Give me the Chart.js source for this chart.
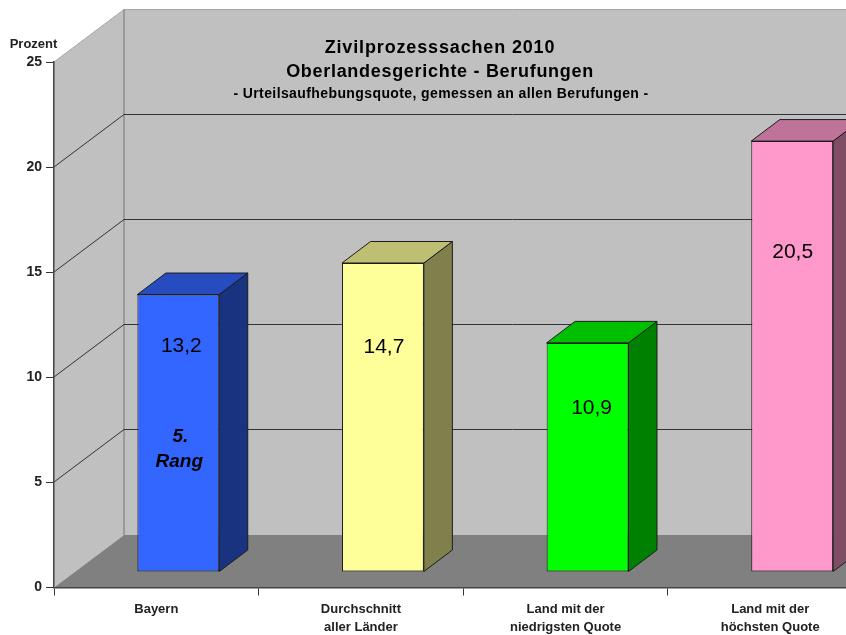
<!DOCTYPE html>
<html>
<head>
<meta charset="utf-8">
<style>html,body{margin:0;padding:0;background:#fff;overflow:hidden;width:846px;height:635px}canvas{display:block}</style>
<script src="https://cdn.jsdelivr.net/npm/chart.js@4/dist/chart.umd.min.js"></script>
</head>
<body>
<canvas id="c" width="900" height="635"></canvas>
<script>
const categories = [["Bayern"], ["Durchschnitt", "aller Länder"], ["Land mit der", "niedrigsten Quote"], ["Land mit der", "höchsten Quote"]];
const values = [13.2, 14.7, 10.9, 20.5];
const valueTexts = ["13,2", "14,7", "10,9", "20,5"];
const labelLevels = [10.75, 10.7, 7.8, 15.2];
const frontColors = ["#3366FF", "#FFFF99", "#00FF00", "#FF99CC"];
const sideColors = ["#1A3380", "#80804D", "#008000", "#804D66"];
const topColors = ["#264CBF", "#BFBF73", "#00BF00", "#BF7399"];
const titleLines = ["Zivilprozesssachen 2010", "Oberlandesgerichte - Berufungen", "- Urteilsaufhebungsquote, gemessen an allen Berufungen -"];
const rankLines = ["5.", "Rang"];
const unitLabel = "Prozent";
const yTicks = [0, 5, 10, 15, 20, 25];

const FONT = '"Liberation Sans", Arial, sans-serif';
const WALL = {dx: 70, dy: -52.5};
const BAR_SHIFT = {dx: 22, dy: -15.5};
const BAR_DEPTH = {dx: 28.5, dy: -21.5};

function poly(ctx, pts, fill, stroke) {
  ctx.beginPath();
  pts.forEach((p, i) => i ? ctx.lineTo(p[0], p[1]) : ctx.moveTo(p[0], p[1]));
  ctx.closePath();
  if (fill) { ctx.fillStyle = fill; ctx.fill(); }
  if (stroke) { ctx.strokeStyle = stroke; ctx.lineWidth = 1; ctx.stroke(); }
}
function seg(ctx, x1, y1, x2, y2, color, w) {
  ctx.beginPath(); ctx.moveTo(x1, y1); ctx.lineTo(x2, y2);
  ctx.strokeStyle = color; ctx.lineWidth = w || 1; ctx.stroke();
}

const scene3d = {
  id: 'scene3d',
  beforeDraw(chart) {
    const {ctx, scales: {x, y}} = chart;
    const L = x.left, R = x.right + WALL.dx, y0 = y.getPixelForValue(0), yT = y.getPixelForValue(25);
    const bx = L + WALL.dx, by0 = y0 + WALL.dy, byT = yT + WALL.dy;
    ctx.save();
    poly(ctx, [[L, y0], [bx, by0], [bx, byT], [L, yT]], '#C0C0C0');
    poly(ctx, [[bx, by0], [R, by0], [R, byT], [bx, byT]], '#C0C0C0');
    poly(ctx, [[L, y0], [x.right, y0], [R, by0], [bx, by0]], '#808080');
    seg(ctx, L, yT, bx, byT, '#A6A6A6');
    seg(ctx, bx, byT, R, byT, '#A6A6A6');
    seg(ctx, bx, byT, bx, by0, '#8C8C8C', 1.5);
    yTicks.filter(v => v > 0 && v < 25).forEach(v => {
      const p = Math.round(y.getPixelForValue(v));
      const q = Math.round(p + WALL.dy) - .5;
      seg(ctx, L, p, bx, q, '#333');
      seg(ctx, bx, q, R, q, '#333');
    });
    ctx.restore();
  },
  beforeDatasetDraw(chart) {
    const ctx = chart.ctx;
    ctx.save();
    ctx.translate(BAR_SHIFT.dx, BAR_SHIFT.dy);
    chart.getDatasetMeta(0).data.forEach((b, i) => {
      const hw = b.width / 2, l = b.x - hw, r = b.x + hw, t = b.y, base = b.base;
      const d = BAR_DEPTH;
      poly(ctx, [[r, t], [r + d.dx, t + d.dy], [r + d.dx, base + d.dy], [r, base]], sideColors[i], '#1c1c1c');
      poly(ctx, [[l, t], [l + d.dx, t + d.dy], [r + d.dx, t + d.dy], [r, t]], topColors[i], '#1c1c1c');
    });
  },
  afterDatasetDraw(chart) {
    chart.ctx.restore();
  },
  afterDraw(chart) {
    const {ctx, scales: {x, y}} = chart;
    const bars = chart.getDatasetMeta(0).data;
    ctx.save();
    ctx.textAlign = 'center';
    ctx.textBaseline = 'middle';
    ctx.fillStyle = '#000';
    const tx = x.left + 386;
    ctx.font = 'bold 18px ' + FONT;
    ctx.letterSpacing = '0.85px';
    ctx.fillText(titleLines[0], tx, 48);
    ctx.letterSpacing = '0.7px';
    ctx.fillText(titleLines[1], tx, 72.5);
    ctx.font = 'bold 14px ' + FONT;
    ctx.letterSpacing = '0.4px';
    ctx.fillText(titleLines[2], tx + 1, 94);
    ctx.letterSpacing = '0px';

    ctx.font = '21px ' + FONT;
    const nudges = [3, 1, 4, 0.5];
    valueTexts.forEach((t, i) => {
      ctx.fillText(t, bars[i].x + BAR_SHIFT.dx + nudges[i], y.getPixelForValue(labelLevels[i]) + BAR_SHIFT.dy);
    });
    ctx.font = 'italic bold 19px ' + FONT;
    ctx.fillText(rankLines[0], bars[0].x + BAR_SHIFT.dx + 2, 437);
    ctx.fillText(rankLines[1], bars[0].x + BAR_SHIFT.dx + 1, 462);

    ctx.font = 'bold 13px ' + FONT;
    ctx.fillStyle = '#222';
    ctx.fillText(unitLabel, 33.5, 44);
    ctx.restore();
  }
};

new Chart(document.getElementById('c'), {
  type: 'bar',
  data: {
    labels: categories,
    datasets: [{
      data: values,
      backgroundColor: frontColors,
      borderColor: '#1c1c1c',
      borderWidth: 1,
      borderSkipped: false,
      barPercentage: 0.4,
      categoryPercentage: 1,
      clip: false
    }]
  },
  options: {
    responsive: false,
    animation: false,
    layout: {padding: {top: 62, right: 27.5, left: 0, bottom: 0}},
    plugins: {legend: {display: false}, title: {display: false}, tooltip: {enabled: false}},
    scales: {
      x: {
        offset: true,
        grid: {offset: true, drawOnChartArea: false, drawTicks: true, tickLength: 8, color: '#333'},
        border: {color: '#444', width: 1.5},
        ticks: {color: '#222', font: {family: FONT, weight: 'bold', size: 13, lineHeight: 1.45}, padding: 4, maxRotation: 0, autoSkip: false},
        afterFit(s) { s.height = 47.5; }
      },
      y: {
        min: 0, max: 25,
        grid: {drawOnChartArea: false, drawTicks: true, tickLength: 8, color: '#333'},
        border: {color: '#444', width: 1.5},
        ticks: {stepSize: 5, color: '#222', font: {family: FONT, weight: 'bold', size: 14}, padding: 4},
        afterFit(s) { s.width = 54; }
      }
    }
  },
  plugins: [scene3d]
});
</script>
</body>
</html>
